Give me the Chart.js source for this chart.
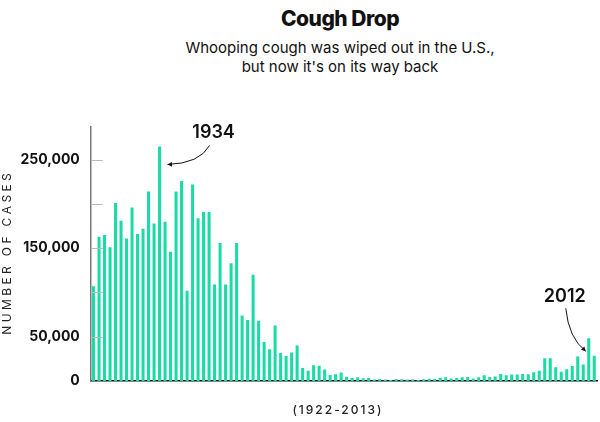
<!DOCTYPE html>
<html>
<head>
<meta charset="utf-8">
<script src="https://cdn.jsdelivr.net/npm/chart.js@4"></script>
<style>
  body { margin: 0; background: #fff; font-family: Inter, "Noto Sans", sans-serif; }
  #wrap { width: 600px; height: 422px; position: relative; }
  h1 { margin: 0; position: absolute; top: 6px; left: 0; width: 600px; padding-left: 80px; box-sizing: border-box;
       text-align: center; font-size: 21px; font-weight: 800; letter-spacing: -0.5px; color: #111; }
  .sub { position: absolute; top: 38px; left: 0; width: 600px; padding-left: 80px; box-sizing: border-box;
         text-align: center; font-size: 15px; line-height: 19px; color: #111; }
  #box { position: absolute; left: 0; top: 100px; width: 600px; height: 322px; }
</style>
</head>
<body>
<div id="wrap">
  <h1>Cough Drop</h1>
  <div class="sub">Whooping cough was wiped out in the U.S.,<br>but now it's on its way back</div>
  <div id="box"><canvas id="c"></canvas></div>
</div>
<script>
// Jahre 1922-2013
const years = [];
for (let y = 1922; y <= 2013; y++) years.push(String(y));

// Fälle pro Jahr
const cases = [
  107000, 163000, 165000, 151000, 201000, 181000, 161000, 196000, 166000, 172000,
  214000, 178000, 265000, 180000, 146000, 214000, 226000, 102000, 222000, 184000,
  191000, 191000, 109000, 156000, 109000, 133000, 156000, 74000, 69000, 120000,
  68000, 44000, 36000, 62800, 31700, 28300, 32100, 40000, 14800, 11500,
  17700, 17100, 13000, 6800, 7700, 9700, 4800, 3300, 4200, 3000,
  3300, 1800, 2400, 1700, 1000, 2200, 2100, 1600, 1700, 1200,
  1900, 2500, 2300, 3600, 4200, 2800, 3500, 4200, 4600, 2700,
  4100, 6600, 4600, 5100, 7800, 6600, 7400, 7300, 7900, 7600,
  9800, 11600, 25800, 25600, 15600, 10500, 13300, 16900, 27600, 18700,
  48300, 28600
];

const tickLabels = { 0: '0', 50000: '50,000', 150000: '150,000', 250000: '250,000' };
const innerTicks = [50000, 100000, 150000, 200000, 250000];

const green = '#19dba5';

// Beschriftungen mit Pfeilen
const notes = {
  id: 'notes',
  afterDraw(chart) {
    const ctx = chart.ctx, x = chart.scales.x, y = chart.scales.y;
    ctx.save();
    // kleine Markierungen an der Y-Achse
    ctx.strokeStyle = '#bbb';
    ctx.lineWidth = 1;
    innerTicks.forEach(v => {
      const py = Math.round(y.getPixelForValue(v)) + 0.5;
      ctx.beginPath(); ctx.moveTo(x.left, py); ctx.lineTo(x.left + 12, py); ctx.stroke();
    });
    ctx.fillStyle = '#111';
    ctx.strokeStyle = '#111';
    ctx.font = '600 18px Inter, sans-serif';
    ctx.textAlign = 'center';
    // 1934
    const x34 = x.getPixelForValue(12), y34 = y.getPixelForValue(cases[12]);
    ctx.fillText('1934', x34 + 54, y34 - 8);
    ctx.beginPath();
    ctx.moveTo(x34 + 50, y34 - 1);
    ctx.quadraticCurveTo(x34 + 40, y34 + 17, x34 + 8, y34 + 18);
    ctx.stroke();
    arrow(ctx, x34 + 8, y34 + 18, Math.PI);
    // 2012
    const x12 = x.getPixelForValue(90), y12 = y.getPixelForValue(cases[90]);
    ctx.fillText('2012', x12 - 24, y12 - 36);
    ctx.beginPath();
    ctx.moveTo(x12 - 23, y12 - 30);
    ctx.quadraticCurveTo(x12 - 20, y12, x12 - 3, y12 + 13);
    ctx.stroke();
    arrow(ctx, x12 - 3, y12 + 13, Math.PI / 4);
    // X-Beschriftung
    ctx.font = '500 12px Inter, sans-serif';
    ctx.fillStyle = '#222';
    if ('letterSpacing' in ctx) ctx.letterSpacing = '2px';
    ctx.fillText('(1922-2013)', (x.left + x.right) / 2 - 6, x.bottom + 25);
    ctx.restore();
  }
};

function arrow(ctx, px, py, ang) {
  ctx.beginPath();
  ctx.moveTo(px, py);
  ctx.lineTo(px - 5 * Math.cos(ang - 0.5), py - 5 * Math.sin(ang - 0.5));
  ctx.lineTo(px - 5 * Math.cos(ang + 0.5), py - 5 * Math.sin(ang + 0.5));
  ctx.closePath();
  ctx.fill();
}

new Chart(document.getElementById('c'), {
  type: 'bar',
  data: {
    labels: years,
    datasets: [{ data: cases, backgroundColor: green, barPercentage: 0.55, categoryPercentage: 1 }]
  },
  options: {
    responsive: true,
    maintainAspectRatio: false,
    animation: false,
    layout: { padding: { top: 27, right: 3, left: 0, bottom: 33 } },
    plugins: { legend: { display: false }, tooltip: { enabled: false } },
    scales: {
      x: {
        grid: { display: false },
        border: { color: '#111', width: 1.5 },
        ticks: { display: false }
      },
      y: {
        min: 0, max: 287000,
        afterBuildTicks(s) { s.ticks = [0, 50000, 150000, 250000].map(v => ({ value: v })); },
        grid: { display: false },
        border: { color: '#777', width: 1.5 },
        ticks: { color: '#111', font: { family: 'Inter', size: 14, weight: 700 },
                 callback: v => tickLabels[v] ?? '', padding: 3 },
        title: { display: true, text: 'N U M B E R   O F   C A S E S', color: '#222',
                 font: { family: 'Inter', size: 12 }, padding: { top: 0, bottom: 3 } }
      }
    }
  },
  plugins: [notes]
});
</script>
</body>
</html>
